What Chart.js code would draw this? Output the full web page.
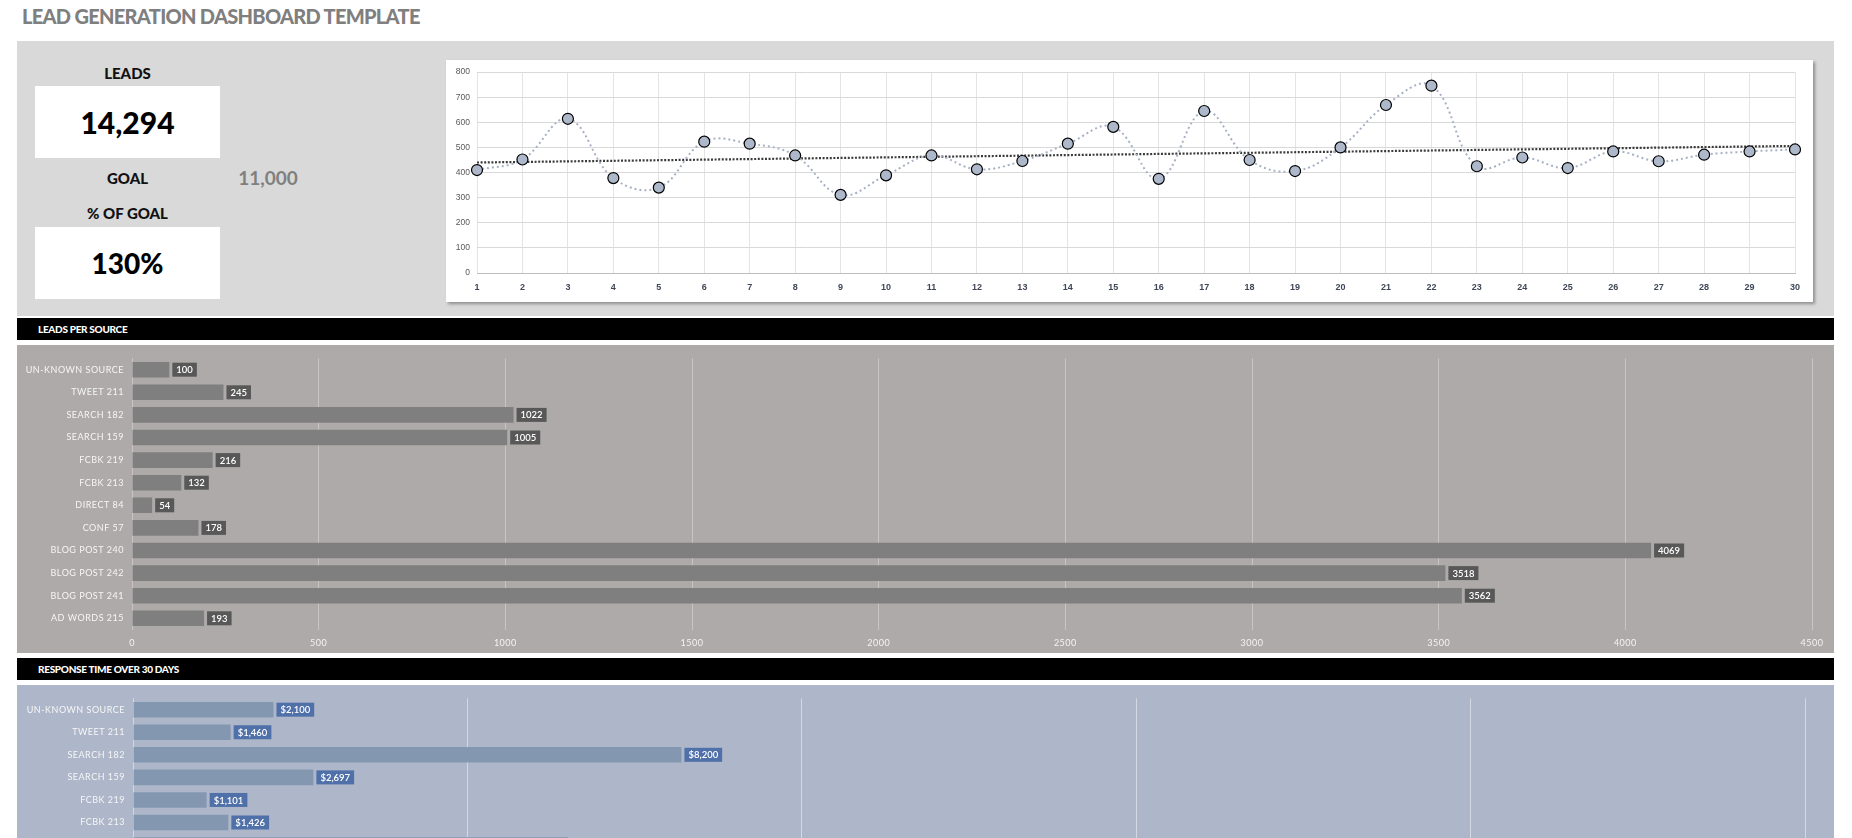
<!DOCTYPE html>
<html><head><meta charset="utf-8">
<script src="https://cdn.jsdelivr.net/npm/chart.js@4.4.1/dist/chart.umd.min.js"></script>
<style>
html,body{margin:0;padding:0;width:1852px;height:838px;overflow:hidden;background:#fff;font-family:Lato,"DejaVu Sans",sans-serif;}
.abs{position:absolute;}
#title{left:22px;top:4px;font-size:20px;line-height:24px;font-weight:900;color:#7f7f7f;white-space:nowrap;letter-spacing:-0.7px;}
.panel{position:absolute;}
.lbl{position:absolute;width:185px;text-align:center;font-weight:900;color:#111;font-size:15px;line-height:18px;}
.box{position:absolute;left:35px;width:185px;height:72px;background:#fff;display:flex;align-items:center;justify-content:center;font-weight:900;color:#000;}
.band{position:absolute;left:17px;width:1817px;height:22px;background:#000;color:#fff;font-weight:900;font-size:10px;line-height:22px;letter-spacing:-0.3px;}
.band span{position:absolute;left:21px;}
canvas{position:absolute;}
</style>
</head><body>
<div id="title" class="abs">LEAD GENERATION DASHBOARD TEMPLATE</div>
<div class="panel" style="left:17px;top:41px;width:1817px;height:275px;background:#d9d9d9;"></div>
<div class="lbl" style="left:35px;top:64px;">LEADS</div>
<div class="box" id="leadsBox" style="top:86px;font-size:30px;"></div>
<div class="lbl" style="left:35px;top:169px;">GOAL</div>
<div class="abs" id="goalVal" style="left:228px;top:166px;width:80px;text-align:center;font-size:19px;line-height:24px;font-weight:700;color:#7f7f7f;"></div>
<div class="lbl" style="left:35px;top:204px;">% OF GOAL</div>
<div class="box" id="pctBox" style="top:227px;font-size:28px;"></div>
<div class="panel" style="left:446px;top:60px;width:1367px;height:242px;background:#fff;box-shadow:2px 2px 3px rgba(0,0,0,0.35);"></div>
<canvas id="lineChart" style="left:446px;top:60px;"></canvas>

<div class="band" style="top:318px;"><span>LEADS PER SOURCE</span></div>
<div class="panel" style="left:17px;top:345px;width:1817px;height:308px;background:#aeaaa9;"></div>
<canvas id="leadsChart" style="left:17px;top:345px;"></canvas>

<div class="band" style="top:658px;"><span>RESPONSE TIME OVER 30 DAYS</span></div>
<div class="panel" style="left:17px;top:685px;width:1817px;height:200px;background:#aeb6c9;"></div>
<canvas id="respChart" style="left:17px;top:685px;"></canvas>

<script>
// ---------- data ----------
const totalLeads = 14294;
const leadsGoal = 11000;
const pctOfGoal = '130%';

const days = ['1','2','3','4','5','6','7','8','9','10','11','12','13','14','15','16','17','18','19','20','21','22','23','24','25','26','27','28','29','30'];
const dailyLeads = [410,452,614,378,340,523,515,468,311,389,468,413,446,515,582,375,645,450,406,500,669,746,425,460,418,484,445,471,484,492];
const trendEnds = [440,506]; // linear trend value at day 1 and day 30
const lineYTicks = [0,100,200,300,400,500,600,700,800];

const sources = ['UN-KNOWN SOURCE','TWEET 211','SEARCH 182','SEARCH 159','FCBK 219','FCBK 213','DIRECT 84','CONF 57','BLOG POST 240','BLOG POST 242','BLOG POST 241','AD WORDS 215'];
const leadsPerSource = [100,245,1022,1005,216,132,54,178,4069,3518,3562,193];
const leadsXTicks = [0,500,1000,1500,2000,2500,3000,3500,4000,4500];

const responseCost = [2100,1460,8200,2697,1101,1426,6500,null,null,null,null,null];
const respXTicks = [0,5000,10000,15000,20000,25000];

// ---------- text ----------
document.getElementById('leadsBox').textContent = totalLeads.toLocaleString('en-US');
document.getElementById('goalVal').textContent = leadsGoal.toLocaleString('en-US');
document.getElementById('pctBox').textContent = pctOfGoal;

// ---------- helpers ----------
function setSize(id,w,h){const c=document.getElementById(id);c.width=w;c.height=h;c.style.width=w+'px';c.style.height=h+'px';return c;}
function fixedTicks(arr){return function(scale){scale.ticks = arr.map(v=>({value:v}));};}

const letterSpacingPlugin = {
  id:'letterSpacing',
  beforeDraw(chart,args,opts){ chart.ctx.letterSpacing = opts.spacing || '0px'; }
};
const valueBoxes = {
  id:'valueBoxes',
  afterDatasetsDraw(chart,args,o){
    const ctx = chart.ctx, meta = chart.getDatasetMeta(0), data = chart.data.datasets[0].data;
    ctx.save();
    ctx.letterSpacing = '0px';
    ctx.font = o.font; ctx.textBaseline = 'middle'; ctx.textAlign='left';
    meta.data.forEach((bar,i)=>{
      const v = data[i]; if (v==null) return;
      const t = o.prefix + v.toLocaleString('en-US', {useGrouping: !!o.locale});
      const w = ctx.measureText(t).width + o.padX*2;
      const x = bar.x + o.gap, y = bar.y - o.h/2;
      ctx.fillStyle = o.bg; ctx.fillRect(x, y, w, o.h);
      ctx.fillStyle = o.color; ctx.fillText(t, x + o.padX, bar.y + 0.5);
    });
    ctx.restore();
  }
};

// ---------- line chart ----------
setSize('lineChart',1367,242);
new Chart(document.getElementById('lineChart'), {
  type:'line',
  data:{
    labels: days,
    datasets:[
      {data: dailyLeads, borderColor:'#a7b1c4', borderWidth:2, borderDash:[2,3], tension:0.4,
       pointRadius:5.5, pointHoverRadius:5.5, pointBackgroundColor:'#adb8ca', pointBorderColor:'#000', pointBorderWidth:1.2, order:1},
      {data: [{x:days[0],y:trendEnds[0]},{x:days[days.length-1],y:trendEnds[1]}], borderColor:'#3a3a3a', borderWidth:2.2,
       borderDash:[2,1.6], pointRadius:0, tension:0, order:2}
    ]
  },
  options:{
    responsive:false, animation:false, events:[],
    layout:{padding:{left:0,right:18,top:11,bottom:0}},
    plugins:{legend:{display:false},tooltip:{enabled:false}},
    scales:{
      x:{offset:false, grid:{color:'#e4e4e4', drawTicks:false}, border:{color:'#bfbfbf'},
         ticks:{padding:9, color:'#3f4756', font:{family:'Liberation Sans', size:9, weight:'bold'}, autoSkip:false, maxRotation:0},
         afterFit(s){s.height=29;}},
      y:{min:lineYTicks[0], max:lineYTicks[lineYTicks.length-1], afterBuildTicks:fixedTicks(lineYTicks),
         grid:{color:'#d9d9d9', drawTicks:false}, border:{display:false},
         ticks:{padding:7, color:'#595959', font:{family:'Liberation Sans', size:8.5}},
         afterFit(s){s.width=31;}}
    }
  }
});

// ---------- bar charts ----------
function barChart(id,w,h,data,xTicks,cfg){
  setSize(id,w,h);
  return new Chart(document.getElementById(id), {
    type:'bar',
    data:{labels:sources, datasets:[{data:data, backgroundColor:cfg.bar, barPercentage:0.69, categoryPercentage:1}]},
    options:{
      indexAxis:'y', responsive:false, animation:false, events:[],
      layout:{padding:{left:0,right:cfg.padRight,top:cfg.padTop,bottom:0}},
      plugins:{legend:{display:false},tooltip:{enabled:false},
        letterSpacing:{spacing:'0.5px'},
        valueBoxes:{font:'600 9.5px Lato', padX:4, gap:3, h:14, bg:cfg.boxBg, color:'#ffffff', prefix:cfg.prefix, locale:cfg.grouping}},
      scales:{
        x:{min:xTicks[0], max:xTicks[xTicks.length-1], afterBuildTicks:fixedTicks(xTicks),
           grid:{color:cfg.grid, drawTicks:false, lineWidth:1}, border:{display:false},
           ticks:{padding:8, color:'#f4f4f4', font:{family:'Lato', size:9}, maxRotation:0,
                  callback:(v)=>String(v)},
           afterFit(s){s.height=cfg.xh;}},
        y:{grid:{display:false, drawTicks:false}, border:{display:cfg.yBorder, color:cfg.grid},
           ticks:{padding:8, color:'#f6f6f6', font:{family:'Lato', size:9}},
           afterFit(s){s.width=cfg.yw;}}
      }
    },
    plugins:[letterSpacingPlugin, valueBoxes]
  });
}
barChart('leadsChart',1817,308,leadsPerSource,leadsXTicks,
  {bar:'#7f7f7f', boxBg:'#585858', grid:'#c9c5c4', padRight:22, padTop:7, xh:23.4, yw:115, prefix:'', grouping:false, yBorder:true});
barChart('respChart',1817,320,responseCost,respXTicks,
  {bar:'#8497b0', boxBg:'#4f70a9', grid:'#d3d8e2', padRight:29, padTop:7, xh:35.8, yw:116, prefix:'$', grouping:true, yBorder:false});
</script>
</body></html>
